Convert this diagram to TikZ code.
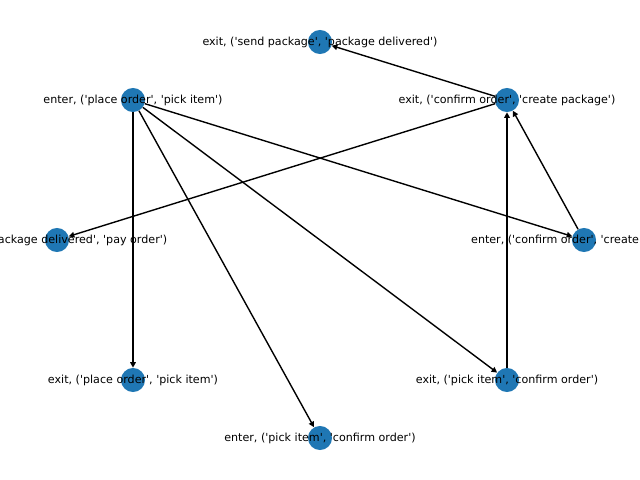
\documentclass[tikz,border=0pt]{standalone}
\usepackage{fontspec}
\setmainfont{DejaVu Sans}[Ligatures=TeXOff]
\usetikzlibrary{arrows.meta}
\definecolor{nodeblue}{HTML}{1F77B4}
\begin{document}
\begin{tikzpicture}[x=0.72pt,y=-0.72pt,
  dot/.style={circle,fill=nodeblue,minimum size=17.3pt,inner sep=0pt},
  lbl/.style={font=\fontsize{8}{9.6}\selectfont,inner sep=0pt,text=black},
  edge/.style={draw=black,line width=1pt,-{Triangle[length=4pt,width=4pt]}}]
\useasboundingbox (0,0) rectangle (640,480);
\clip (0,0) rectangle (640,480);
\node[dot] (A) at (320,42) {};
\node[dot] (B) at (133,100) {};
\node[dot] (C) at (507,100) {};
\node[dot] (D) at (57,240) {};
\node[dot] (E) at (584,240) {};
\node[dot] (F) at (133,380) {};
\node[dot] (G) at (507,380) {};
\node[dot] (H) at (320,438) {};
\draw[edge] (C) -- (A);
\draw[edge] (C) -- (D);
\draw[edge] (B) -- (E);
\draw[edge] (B) -- (F);
\draw[edge] (B) -- (G);
\draw[edge] (B) -- (H);
\draw[edge] (E) -- (C);
\draw[edge] (G) -- (C);
\node[lbl] (Al) at (A) {exit, ('send package', 'package delivered')};
\node[lbl] (Bl) at (B) {enter, ('place order', 'pick item')};
\node[lbl] (Cl) at (C) {exit, ('confirm order', 'create package')};
\node[lbl] (Dl) at (D) {enter, ('package delivered', 'pay order')};
\node[lbl] (El) at (E) {enter, ('confirm order', 'create package')};
\node[lbl] (Fl) at (F) {exit, ('place order', 'pick item')};
\node[lbl] (Gl) at (G) {exit, ('pick item', 'confirm order')};
\node[lbl] (Hl) at (H) {enter, ('pick item', 'confirm order')};
\end{tikzpicture}
\end{document}
